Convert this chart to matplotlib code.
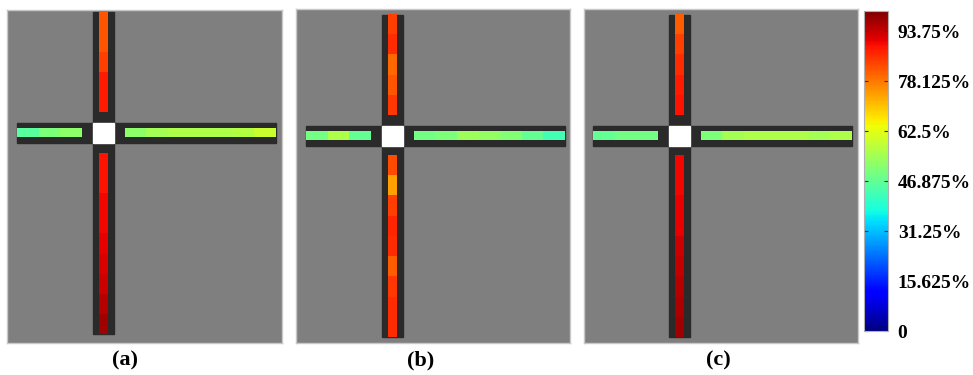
import numpy as np
import matplotlib
matplotlib.use('Agg')
import matplotlib.pyplot as plt
from matplotlib.patches import Rectangle
from matplotlib.colors import Normalize
from matplotlib.cm import ScalarMappable

# valeurs des cellules en %
# bras haut: haut -> centre, bras bas: centre -> bas
# bras gauche: exterieur -> centre, bras droit: centre -> exterieur
panel_labels = ['(a)', '(b)', '(c)']

up_a = [82, 82, 84, 88, 88]
down_a = [89, 89, 90, 90, 91, 92, 93, 95, 97]
left_a = [46, 50, 52]
right_a = [52, 55, 56, 56, 56, 57, 59]

up_b = [84, 86, 80, 82, 85]
down_b = [83, 74, 84, 87, 86, 81, 85, 86, 86]
left_b = [49, 56, 47]
right_b = [49, 50, 54, 53, 51, 47, 43]

up_c = [81, 84, 86, 88, 89]
down_c = [90, 90, 91, 91, 93, 94, 95, 96, 97]
left_c = [47, 49, 49]
right_c = [50, 55, 56, 56, 56, 55, 56]

cbar_ticks = [0, 15.625, 31.25, 46.875, 62.5, 78.125, 93.75]
cbar_labels = ['0', '15.625%', '31.25%', '46.875%', '62.5%', '78.125%', '93.75%']

arms = [
    (up_a, down_a, left_a, right_a),
    (up_b, down_b, left_b, right_b),
    (up_c, down_c, left_c, right_c),
]

# mise en page (pixels de la figure)
W, H = 973, 375
panel_x = [7, 296, 584]
panel_top = [10, 9, 9]
panel_w = [275, 274, 274]
panel_h = [333, 334, 334]
centres = [(96.5, 123), (96.5, 127), (95.5, 127)]
label_x = [125, 421, 718]

cmap = plt.get_cmap('jet')
norm = Normalize(vmin=0, vmax=100)
serif = ['Liberation Serif', 'DejaVu Serif']

fig = plt.figure(figsize=(W / 100, H / 100), dpi=100)

for i in range(3):
    ax = fig.add_axes([panel_x[i] / W, (H - panel_top[i] - panel_h[i]) / H,
                       panel_w[i] / W, panel_h[i] / H])
    ax.set_facecolor('#7f7f7f')
    cx, cy = centres[i]
    up, down, left, right = arms[i]

    # barres sombres
    ax.add_patch(Rectangle((cx - 10.5, cy - 121), 21, 322, color='#2a2a2a', zorder=1))
    ax.add_patch(Rectangle((cx - 86.5, cy - 10), 259, 20, color='#2a2a2a', zorder=1))

    # cellules colorees
    kw = dict(cmap=cmap, norm=norm, aspect='auto', interpolation='nearest', zorder=2)
    ax.imshow(np.array(up).reshape(-1, 1), extent=(cx - 4.5, cx + 4.5, cy - 21, cy - 121), **kw)
    ax.imshow(np.array(down).reshape(-1, 1), extent=(cx - 4.5, cx + 4.5, cy + 201, cy + 20), **kw)
    ax.imshow(np.array(left).reshape(1, -1), extent=(cx - 86.5, cx - 21.5, cy + 4.5, cy - 4.5), **kw)
    ax.imshow(np.array(right).reshape(1, -1), extent=(cx + 21.5, cx + 172.5, cy + 4.5, cy - 4.5), **kw)

    # carre blanc au centre
    ax.add_patch(Rectangle((cx - 10.5, cy - 10), 21, 20, color='white', zorder=3))

    ax.set_xlim(0, panel_w[i])
    ax.set_ylim(panel_h[i], 0)
    ax.set_xticks([])
    ax.set_yticks([])
    for s in ax.spines.values():
        s.set_color('#c8c8c8')
        s.set_linewidth(1)

    fig.text(label_x[i] / W, 1 - 360 / H, panel_labels[i], ha='center', va='center',
             fontsize=16, fontweight='bold', family=serif)

# barre de couleur
cax = fig.add_axes([864 / W, (H - 331) / H, 24 / W, 320 / H])
cb = fig.colorbar(ScalarMappable(norm=norm, cmap=cmap), cax=cax)
cb.set_ticks(cbar_ticks)
cb.set_ticklabels(cbar_labels)
cb.outline.set_edgecolor('#b0b0b0')
cax.tick_params(direction='in', length=3, color='#333333', left=True, right=True, pad=7)
for t in cax.get_yticklabels():
    t.set_fontfamily(serif)
    t.set_fontweight('bold')
    t.set_fontsize(14)

fig.savefig('out.png', dpi=100, facecolor='white')
